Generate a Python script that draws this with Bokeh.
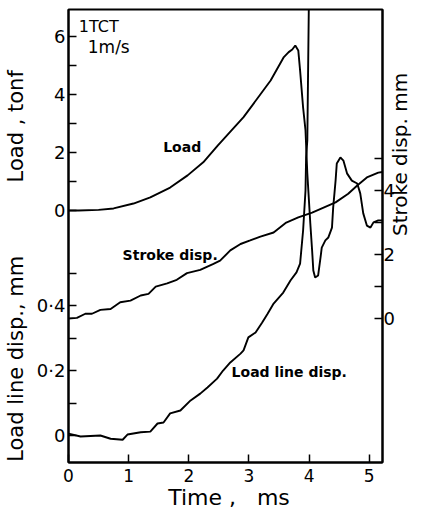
from math import pi
from bokeh.plotting import figure
from bokeh.models import Range1d, LinearAxis, FixedTicker, Label
from bokeh.embed import file_html
from bokeh.resources import INLINE

# ---------------- data ----------------
time_load = [0.0, 0.17, 0.5, 0.75, 1.08, 1.36, 1.69, 1.98, 2.24, 2.48,
             2.91, 3.36, 3.58, 3.66, 3.72, 3.77, 3.82, 3.85, 3.90, 3.94,
             3.97, 4.02, 4.05, 4.07, 4.10, 4.15, 4.19, 4.21, 4.27, 4.32,
             4.38, 4.40, 4.44, 4.46, 4.52, 4.57, 4.63, 4.71, 4.80, 4.85,
             4.90, 4.96, 5.02, 5.07, 5.15, 5.22]
load_tonf = [0.0, 0.0, 0.02, 0.07, 0.24, 0.45, 0.79, 1.21, 1.66, 2.24,
             3.22, 4.48, 5.29, 5.46, 5.55, 5.69, 5.52, 4.83, 3.55, 2.76,
             1.28, -0.45, -1.38, -2.07, -2.31, -2.24, -1.62, -1.28, -1.03, -0.93,
             -0.59, 0.10, 1.03, 1.62, 1.83, 1.72, 1.28, 1.03, 0.93, 0.59,
             -0.10, -0.52, -0.59, -0.41, -0.34, -0.34]

time_lld = [0.0, 0.2, 0.53, 0.70, 0.90, 0.98, 1.20, 1.36, 1.48, 1.58,
            1.69, 1.86, 2.03, 2.19, 2.31, 2.47, 2.57, 2.69, 2.86, 2.91,
            2.99, 3.11, 3.22, 3.31, 3.41, 3.57, 3.69, 3.79, 3.85, 3.90,
            3.94, 3.95, 3.97, 4.00]
lld_mm = [0.006, -0.003, 0.0, -0.01, -0.013, 0.003, 0.01, 0.012, 0.037, 0.04,
          0.068, 0.077, 0.108, 0.129, 0.148, 0.175, 0.2, 0.225, 0.252, 0.262,
          0.302, 0.317, 0.348, 0.375, 0.406, 0.440, 0.477, 0.502, 0.529, 0.631,
          0.754, 0.855, 0.908, 1.40]

time_stroke = [0.0, 0.14, 0.28, 0.39, 0.53, 0.70, 0.86, 1.03, 1.20, 1.33,
               1.45, 1.64, 1.80, 1.97, 2.19, 2.41, 2.52, 2.69, 2.86, 3.02,
               3.19, 3.41, 3.62, 3.82, 4.05, 4.44, 4.65, 4.80, 4.96, 5.15, 5.22]
stroke_mm = [0.0, 0.02, 0.15, 0.15, 0.27, 0.30, 0.51, 0.56, 0.72, 0.77,
             1.0, 1.10, 1.21, 1.42, 1.52, 1.71, 1.81, 2.13, 2.33, 2.44,
             2.56, 2.69, 3.0, 3.16, 3.31, 3.63, 3.9, 4.16, 4.41, 4.56, 4.58]

x_ticks = [0, 1, 2, 3, 4, 5]
load_ticks = [0, 1, 2, 3, 4, 5, 6]
load_tick_labels = ["0", "", "2", "", "4", "", "6"]
lld_ticks = [0.0, 0.1, 0.2, 0.3, 0.4, 0.5]
lld_tick_labels = ["0", "", "0\u00b72", "", "0\u00b74", ""]
stroke_ticks = [0, 1, 2, 3, 4, 5]
stroke_tick_labels = ["0", "", "2", "", "4", ""]

NB = "\u00a0"
left_title = "Load line disp., mm" + NB * 11 + "Load , tonf" + NB * 9
right_title = "Stroke disp. mm" + NB
bottom_title = NB + "Time" + NB + "," + NB * 3 + "ms"

assert len(time_load) == len(load_tonf)
assert len(time_lld) == len(lld_mm)
assert len(time_stroke) == len(stroke_mm)

# ---------------- figure ----------------
LOAD_RANGE = (-8.69, 6.93)
LLD_RANGE = (-0.083, 1.311)
STROKE_RANGE = (-4.5, 9.66)
FONT = "DejaVu Sans"

p = figure(width=428, height=512, x_range=Range1d(0, 5.22),
           y_range=Range1d(*LOAD_RANGE), output_backend="svg",
           toolbar_location=None, min_border_left=68, min_border_right=46,
           min_border_top=9, min_border_bottom=50)
p.extra_y_ranges = {"lld": Range1d(*LLD_RANGE), "stroke": Range1d(*STROKE_RANGE)}
p.grid.visible = False
p.outline_line_color = "black"
p.outline_line_width = 2
p.background_fill_color = "white"
p.border_fill_color = "white"

# curves
lw = 1.9
p.line(time_load, load_tonf, line_color="black", line_width=lw)
p.line(time_lld, lld_mm, line_color="black", line_width=lw, y_range_name="lld")
p.line(time_stroke, stroke_mm, line_color="black", line_width=lw, y_range_name="stroke")

# left axis: load ticks + load-line-disp ticks on one spine
def lld_to_load(v):
    return round(LOAD_RANGE[0] + (v - LLD_RANGE[0]) * (LOAD_RANGE[1] - LOAD_RANGE[0])
                 / (LLD_RANGE[1] - LLD_RANGE[0]), 6)

left_pos = [float(t) for t in load_ticks] + [lld_to_load(v) for v in lld_ticks]
left_labels = load_tick_labels + lld_tick_labels
yax = p.yaxis[0]
yax.ticker = FixedTicker(ticks=left_pos)
yax.major_label_overrides = {pos: lab for pos, lab in zip(left_pos, left_labels)}

def style_axis(ax, size, title, title_size, standoff):
    ax.axis_line_width = 2
    ax.axis_line_color = "black"
    ax.major_tick_in = 8
    ax.major_tick_out = 0
    ax.major_tick_line_width = 1.5
    ax.minor_tick_line_color = None
    ax.major_label_text_font = FONT
    ax.major_label_text_font_size = size
    ax.major_label_text_color = "black"
    ax.axis_label = title
    ax.axis_label_text_font = FONT
    ax.axis_label_text_font_size = title_size
    ax.axis_label_text_font_style = "normal"
    ax.axis_label_text_color = "black"
    ax.axis_label_standoff = standoff

style_axis(yax, "18px", left_title, "21px", 6)
yax.major_label_standoff = 3

xax = p.xaxis[0]
xax.ticker = FixedTicker(ticks=x_ticks)
style_axis(xax, "17px", bottom_title, "22px", 0)
xax.major_label_standoff = 6

rax = LinearAxis(y_range_name="stroke")
rax.ticker = FixedTicker(ticks=[float(t) for t in stroke_ticks])
rax.major_label_overrides = {float(t): lab for t, lab in zip(stroke_ticks, stroke_tick_labels)}
style_axis(rax, "18px", right_title, "20px", 2)
rax.major_label_standoff = 1
rax.axis_label_orientation = pi / 2
p.add_layout(rax, "right")

# in-plot annotations
def add_text(x, y, text, size, align="center", bold=False):
    p.add_layout(Label(x=x, y=y, text=text, text_font=FONT, text_font_size=size,
                       text_align=align, text_baseline="middle",
                       text_color="black",
                       text_font_style="bold" if bold else "normal"))

add_text(1.89, 2.2, "Load", "14px", bold=True)
add_text(1.69, -1.53, "Stroke disp.", "14px", bold=True)
add_text(3.67, -5.57, "Load line disp.", "14px", bold=True)
add_text(0.17, 6.33, "1TCT", "16px", align="left")
add_text(0.32, 5.62, "1m/s", "17px", align="left")

open("out.html", "w").write(file_html(p, INLINE))
